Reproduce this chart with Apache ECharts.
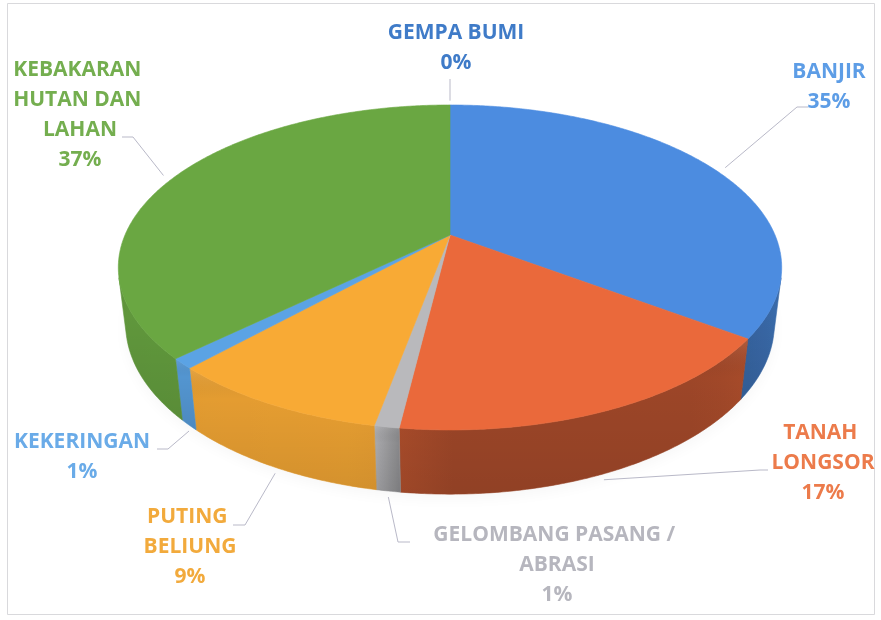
<!DOCTYPE html>
<html>
<head>
<meta charset="utf-8">
<script src="https://cdn.jsdelivr.net/npm/echarts@6/dist/echarts.min.js"></script>
<style>
  html, body { margin: 0; padding: 0; background: #fff; }
  #chart { width: 881px; height: 620px; }
</style>
</head>
<body>
<div id="chart"></div>
<script>
// slices, clockwise from 12 o'clock
var categories = ['GEMPA BUMI', 'BANJIR', 'TANAH LONGSOR', 'GELOMBANG PASANG / ABRASI', 'PUTING BELIUNG', 'KEKERINGAN', 'KEBAKARAN HUTAN DAN LAHAN'];
var values = [0, 35, 17, 1, 9, 1, 37];
var sliceColors = ['#3f7bc8', '#4c8ce0', '#ea693b', '#b9b9bc', '#f8aa35', '#5ba3e4', '#6aa742'];
var labelColors = ['#3f7bc8', '#5d9de6', '#ec7b4b', '#b6b6be', '#f2aa3c', '#6aabe8', '#74ae4f'];

// label boxes and leader elbows (layout only)
var labelLayout = [
  { x: 456, y: 48,  w: 200, lead: [[450, 79]] },
  { x: 829, y: 87,  w: 120, lead: [[808, 107], [797, 107]] },
  { x: 823, y: 463, w: 120, lead: [[768, 470], [760, 470]] },
  { x: 557, y: 565, w: 260, lead: [[410, 542], [398, 542]] },
  { x: 190, y: 547, w: 110, lead: [[233, 525], [245, 525]] },
  { x: 82,  y: 457, w: 150, lead: [[157, 449], [168, 449]] },
  { x: 80,  y: 115, w: 140, lead: [[122, 137], [133, 137]] }
];

// 3d projection of the pie
var cx = 450, cy = 235, S = 325, D = 4.39;
var sa = 0.48, ca = Math.sqrt(1 - sa * sa), depth = 0.2;
var visFrom = Math.acos(-1 / (D * ca)), visTo = 2 * Math.PI - visFrom;

function proj(t, R, Y) {
  var X = R * Math.sin(t), Z = R * Math.cos(t);
  var v = Y * ca + Z * sa;
  var w = -Y * sa + Z * ca;
  var p = D / (D + w);
  return [cx + S * X * p, cy - S * v * p];
}

function shade(hex, k) {
  var n = parseInt(hex.slice(1), 16);
  var r = (n >> 16) & 255, g = (n >> 8) & 255, b = n & 255;
  r = Math.round(r * (1 - k)); g = Math.round(g * (1 - k)); b = Math.round(b * (1 - k));
  return 'rgb(' + r + ',' + g + ',' + b + ')';
}

// how much darker the side wall is, by angle (light from the left)
function wallDark(t) {
  var deg = t * 180 / Math.PI;
  if (deg < 140) return 0.22 + Math.max(0, deg - 105) / 35 * 0.11;
  if (deg < 186) return 0.33;
  if (deg < 191) return 0.33 - (deg - 186) / 5 * 0.26;
  return 0.07 + (deg - 191) / 79 * 0.04;
}

function arc(a0, a1, R, Y) {
  var pts = [], n = Math.max(2, Math.ceil((a1 - a0) / (Math.PI / 360)));
  for (var k = 0; k <= n; k++) pts.push(proj(a0 + (a1 - a0) * k / n, R, Y));
  return pts;
}

var total = values.reduce(function (a, b) { return a + b; }, 0);

function renderItem(params, api) {
  var i = params.dataIndex;
  var before = 0;
  for (var k = 0; k < i; k++) before += values[k];
  var a0 = before / total * 2 * Math.PI;
  var a1 = (before + api.value(0)) / total * 2 * Math.PI;
  var base = sliceColors[i];
  var children = [];

  if (i === 0) {
    // soft shadow under the pie
    children.push({
      type: 'polygon', z2: 0,
      shape: { points: arc(0, 2 * Math.PI, 1, -depth) },
      style: { fill: 'rgba(0,0,0,0.10)', shadowBlur: 14, shadowColor: 'rgba(0,0,0,0.35)', shadowOffsetY: 5 }
    });
  }

  if (a1 > a0) {
    var top = [[cx, cy]].concat(arc(a0, a1, 1, 0));
    children.push({
      type: 'polygon', z2: 10,
      shape: { points: top },
      style: { fill: base, stroke: base, lineWidth: 0.6 }
    });
    var w0 = Math.max(a0, visFrom), w1 = Math.min(a1, visTo);
    if (w1 > w0) {
      var upper = arc(w0, w1, 1, 0);
      var lower = arc(w0, w1, 1, -depth).reverse();
      var pts = upper.concat(lower);
      var x0 = proj(w0, 1, 0)[0], x1 = proj(w1, 1, 0)[0];
      if (Math.abs(x1 - x0) < 1) x1 = x0 - 1;
      var stops = [];
      for (var s = 0; s <= 8; s++) {
        var t = w0 + (w1 - w0) * s / 8;
        stops.push({ offset: Math.min(1, Math.max(0, (proj(t, 1, 0)[0] - x0) / (x1 - x0))), color: shade(base, wallDark(t)) });
      }
      stops.sort(function (p, q) { return p.offset - q.offset; });
      children.push({
        type: 'polygon', z2: 5,
        shape: { points: pts },
        style: {
          fill: { type: 'linear', x: x0, y: 0, x2: x1, y2: 0, global: true, colorStops: stops },
          stroke: shade(base, wallDark((w0 + w1) / 2)), lineWidth: 0.6
        }
      });
      children.push({
        type: 'polygon', z2: 6,
        shape: { points: pts },
        style: {
          fill: { type: 'linear', x: 0, y: 0, x2: 0, y2: 1, colorStops: [
            { offset: 0, color: 'rgba(255,255,255,0.10)' },
            { offset: 0.25, color: 'rgba(0,0,0,0)' },
            { offset: 1, color: 'rgba(0,0,0,0.08)' }
          ] }
        }
      });
    }
  }

  // label + leader line
  var mid = (a0 + a1) / 2;
  var onWall = Math.cos(mid) < -1 / (D * ca);
  var anchor = onWall ? proj(mid, 1, -depth) : proj(mid, 1.04, 0);
  if (onWall) anchor = [anchor[0], anchor[1] + 6];
  var lay = labelLayout[i];
  children.push({
    type: 'polyline', z2: 20,
    shape: { points: lay.lead.concat([anchor]) },
    style: { stroke: '#b9b9c8', lineWidth: 1, fill: null }
  });
  var pct = Math.round(api.value(0) / total * 100) + '%';
  children.push({
    type: 'text', z2: 21,
    x: lay.x, y: lay.y,
    style: {
      text: categories[i] + '\n' + pct,
      width: lay.w, overflow: 'break',
      fill: labelColors[i],
      font: 'bold 21px "Open Sans", sans-serif',
      lineHeight: 30,
      align: 'center', verticalAlign: 'middle'
    }
  });

  return { type: 'group', children: children };
}

var chart = echarts.init(document.getElementById('chart'));
chart.setOption({
  backgroundColor: '#fff',
  animation: false,
  graphic: [{
    type: 'rect', z: -1,
    shape: { x: 7.5, y: 3.5, width: 867, height: 611 },
    style: { fill: '#fff', stroke: '#d9d9dc', lineWidth: 1 }
  }],
  series: [{
    type: 'custom',
    coordinateSystem: 'none',
    renderItem: renderItem,
    data: values.map(function (v, i) { return { name: categories[i], value: [v] }; })
  }]
});
</script>
</body>
</html>
